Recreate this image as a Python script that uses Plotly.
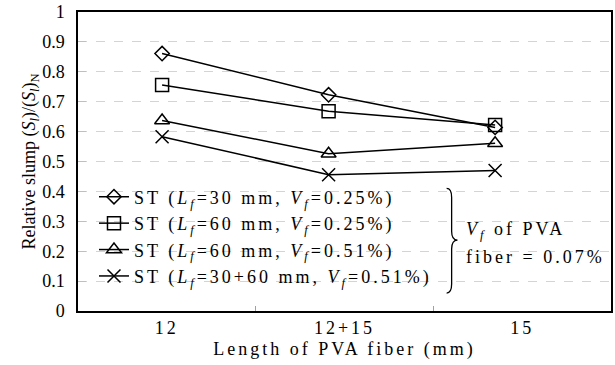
import plotly.graph_objects as go

categories = ["12", "12+15", "15"]
series_names = [
    "ST (<i>L</i><sub><i>f</i></sub>=30 mm, <i>V</i><sub><i>f</i></sub>=0.25%)",
    "ST (<i>L</i><sub><i>f</i></sub>=60 mm, <i>V</i><sub><i>f</i></sub>=0.25%)",
    "ST (<i>L</i><sub><i>f</i></sub>=60 mm, <i>V</i><sub><i>f</i></sub>=0.51%)",
    "ST (<i>L</i><sub><i>f</i></sub>=30+60 mm, <i>V</i><sub><i>f</i></sub>=0.51%)",
]
st30_025 = [0.861, 0.723, 0.614]
st60_025 = [0.756, 0.668, 0.622]
st60_051 = [0.637, 0.526, 0.561]
st3060_051 = [0.583, 0.456, 0.470]
series_values = [st30_025, st60_025, st60_051, st3060_051]
symbols = ["diamond-open", "square-open", "triangle-up-open", "x-thin-open"]
sizes = [11, 13, 13, 13]
y_ticks = [0, 0.1, 0.2, 0.3, 0.4, 0.5, 0.6, 0.7, 0.8, 0.9, 1]
y_ticklabels = ["0", "0.1", "0.2", "0.3", "0.4", "0.5", "0.6", "0.7", "0.8", "0.9", "1"]
note_lines = ["<i>V</i><sub><i>f</i></sub> of PVA", "fiber = 0.07%"]

FONT = "Liberation Serif"
positions = list(range(len(categories)))

fig = go.Figure()
# invisible anchor trace so the category (label) axis is drawn
fig.add_trace(go.Scatter(x=positions, y=st30_025, xaxis="x", yaxis="y",
                         mode="markers", marker=dict(opacity=0),
                         showlegend=False, hoverinfo="skip"))
for name, vals, sym, sz in zip(series_names, series_values, symbols, sizes):
    fig.add_trace(go.Scatter(
        x=positions, y=vals, name=name, xaxis="x2", yaxis="y",
        mode="lines+markers",
        line=dict(color="black", width=1.5),
        marker=dict(symbol=sym, size=sz, color="black",
                    line=dict(color="black", width=1.5)),
    ))

fig.update_layout(
    width=615, height=365,
    margin=dict(l=78, r=2, t=11, b=54),
    paper_bgcolor="white", plot_bgcolor="white",
    font=dict(family=FONT, size=18, color="black"),
    showlegend=True,
    legend=dict(x=0.03, y=0.443, xanchor="left", yanchor="top",
                bgcolor="rgba(0,0,0,0)", font=dict(family=FONT, size=18),
                tracegroupgap=0, itemsizing="trace"),
    xaxis=dict(
        range=[-0.5, 2.5], tickvals=positions, ticktext=categories,
        ticks="", showgrid=False, zeroline=False,
        showline=True, linecolor="black", linewidth=1.5, mirror=True,
        tickfont=dict(family=FONT, size=18), ticklabelstandoff=0,
        minor=dict(tickvals=[0.5, 1.5], ticks="inside", ticklen=5,
                   tickcolor="#a0a0a0", showgrid=False),
        title=dict(text="Length of PVA fiber (mm)",
                   font=dict(family=FONT, size=18), standoff=5),
    ),
    xaxis2=dict(range=[-0.505, 2.696], overlaying="x", visible=False),
    yaxis=dict(
        range=[0, 1], tickvals=y_ticks, ticktext=y_ticklabels,
        ticks="inside", ticklen=8, tickcolor="#bfbfbf",
        showgrid=True, gridcolor="#d4d4d4", griddash="dash", gridwidth=1,
        zeroline=False, showline=True, linecolor="black", linewidth=1.5,
        mirror=True, tickfont=dict(family=FONT, size=18), ticklabelstandoff=8,
        title=dict(text="Relative slump (<i>S<sub>l</sub></i>)/(<i>S<sub>l</sub></i>)<sub>N</sub>",
                   font=dict(family=FONT, size=18), standoff=2),
    ),
)

# white legend box covering gridlines
fig.add_shape(type="rect", xref="paper", yref="paper",
              x0=0.0187, x1=0.705, y0=0.043, y1=0.443,
              fillcolor="white", line=dict(width=0), layer="between")

# brace
xl, xm, xt = 0.6916, 0.701, 0.712
yt, yb, ym = 0.41, 0.06, 0.237
d = 0.03
path = (f"M {xl},{yt} Q {xm},{yt} {xm},{yt-d} L {xm},{ym+d} "
        f"Q {xm},{ym} {xt},{ym} Q {xm},{ym} {xm},{ym-d} "
        f"L {xm},{yb+d} Q {xm},{yb} {xl},{yb}")
fig.add_shape(type="path", xref="paper", yref="paper", path=path,
              line=dict(color="black", width=1.3))

for txt, yy in zip(note_lines, [0.268, 0.18]):
    fig.add_annotation(xref="paper", yref="paper", x=0.725, y=yy,
                       xanchor="left", yanchor="middle", align="left", showarrow=False,
                       text=txt, font=dict(family=FONT, size=18, color="black"))

post = """
var st = document.createElement('style');
st.innerHTML = '.legendtext, .xtick text, .g-xtitle text, .annotation-text {letter-spacing: 3px;}';
document.head.appendChild(st);
document.querySelectorAll('.legend [clip-path], .legend').forEach(function(e){ e.removeAttribute('clip-path'); });
"""
fig.write_html("out.html", post_script=post)
